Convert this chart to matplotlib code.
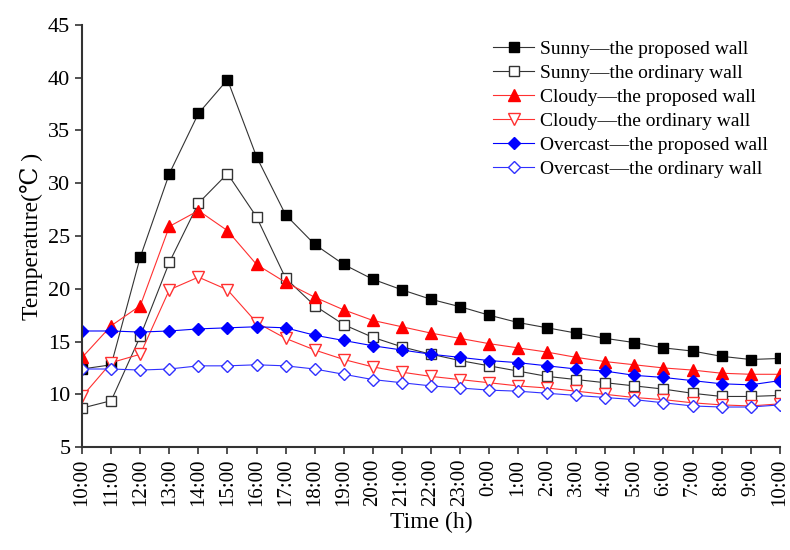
import numpy as np
import matplotlib
matplotlib.use("Agg")
import matplotlib.pyplot as plt

plt.rcParams['font.family'] = ['Liberation Serif', 'DejaVu Serif']

hours = ["10:00", "11:00", "12:00", "13:00", "14:00", "15:00", "16:00", "17:00",
         "18:00", "19:00", "20:00", "21:00", "22:00", "23:00", "0:00", "1:00",
         "2:00", "3:00", "4:00", "5:00", "6:00", "7:00", "8:00", "9:00", "10:00"]

sunny_proposed = [12.4, 12.8, 23.0, 30.9, 36.6, 39.8, 32.5, 27.0, 24.2, 22.3, 20.9, 19.9,
                  19.0, 18.3, 17.5, 16.8, 16.3, 15.8, 15.3, 14.9, 14.4, 14.1, 13.6, 13.3, 13.4]
sunny_ordinary = [8.7, 9.4, 15.5, 22.5, 28.1, 30.9, 26.8, 21.0, 18.4, 16.6, 15.4, 14.5,
                  13.8, 13.2, 12.7, 12.2, 11.7, 11.4, 11.1, 10.8, 10.5, 10.1, 9.8, 9.8, 9.9]
cloudy_proposed = [13.5, 16.5, 18.4, 25.9, 27.4, 25.5, 22.3, 20.6, 19.2, 18.0, 17.0, 16.4,
                   15.8, 15.3, 14.8, 14.4, 14.0, 13.5, 13.1, 12.8, 12.5, 12.3, 12.0, 11.9, 11.9]
cloudy_ordinary = [9.8, 13.0, 13.8, 19.9, 21.1, 19.9, 16.8, 15.3, 14.2, 13.3, 12.6, 12.1,
                   11.7, 11.4, 11.1, 10.8, 10.6, 10.3, 10.0, 9.7, 9.5, 9.2, 9.0, 8.9, 9.1]
overcast_proposed = [16.0, 16.0, 15.9, 16.0, 16.2, 16.3, 16.4, 16.3, 15.6, 15.1, 14.6, 14.2,
                     13.8, 13.5, 13.2, 13.0, 12.7, 12.4, 12.2, 11.8, 11.6, 11.3, 11.0, 10.9, 11.3]
overcast_ordinary = [12.4, 12.4, 12.3, 12.4, 12.7, 12.7, 12.8, 12.7, 12.4, 11.9, 11.4, 11.1,
                     10.8, 10.6, 10.4, 10.3, 10.1, 9.9, 9.7, 9.5, 9.2, 8.9, 8.8, 8.8, 9.0]

labels = ["Sunny—the proposed wall", "Sunny—the ordinary wall",
          "Cloudy—the proposed wall", "Cloudy—the ordinary wall",
          "Overcast—the proposed wall", "Overcast—the ordinary wall"]

x = np.arange(len(hours))

fig = plt.figure(figsize=(7.9, 5.5), dpi=100)
ax = fig.add_axes([0.104, 0.187, 0.883, 0.768])

ax.plot(x, sunny_proposed, color="#333333", lw=0.8, marker="s", ms=7,
        mfc="black", mec="black", label=labels[0])
ax.plot(x, sunny_ordinary, color="#333333", lw=0.8, marker="s", ms=7,
        mfc="white", mec="#333333", label=labels[1])
ax.plot(x, cloudy_proposed, color="#ff3030", lw=0.8, marker="^", ms=8,
        mfc="red", mec="red", label=labels[2])
ax.plot(x, cloudy_ordinary, color="#ff3030", lw=0.8, marker="v", ms=8,
        mfc="white", mec="#ff3030", label=labels[3])
ax.plot(x, overcast_proposed, color="blue", lw=0.8, marker="D", ms=6.5,
        mfc="blue", mec="blue", label=labels[4])
ax.plot(x, overcast_ordinary, color="#3030ff", lw=0.8, marker="D", ms=6.5,
        mfc="white", mec="#3030ff", label=labels[5])

ax.set_xlim(0, len(hours) - 1)
ax.set_ylim(5, 45)
ax.set_xticks(x)
ax.set_xticklabels(hours, rotation=90, fontsize=15)
ax.set_yticks(np.arange(5, 46, 5))
ax.tick_params(axis="y", labelsize=16)
ax.tick_params(direction="out", length=5, width=1.2, color="#333333")
ax.spines["top"].set_visible(False)
ax.spines["right"].set_visible(False)
for s in ["left", "bottom"]:
    ax.spines[s].set_linewidth(1.5)
    ax.spines[s].set_color("#333333")

ax.set_xlabel("Time (h)", fontsize=17, labelpad=4)
ax.set_ylabel("Temperature(℃ )", fontsize=17, labelpad=4)

ax.legend(loc="upper right", bbox_to_anchor=(1.008, 1.005), frameon=False,
          fontsize=14, handlelength=2.1, labelspacing=0.33, handletextpad=0.3)

fig.savefig("out.png", dpi=100)
